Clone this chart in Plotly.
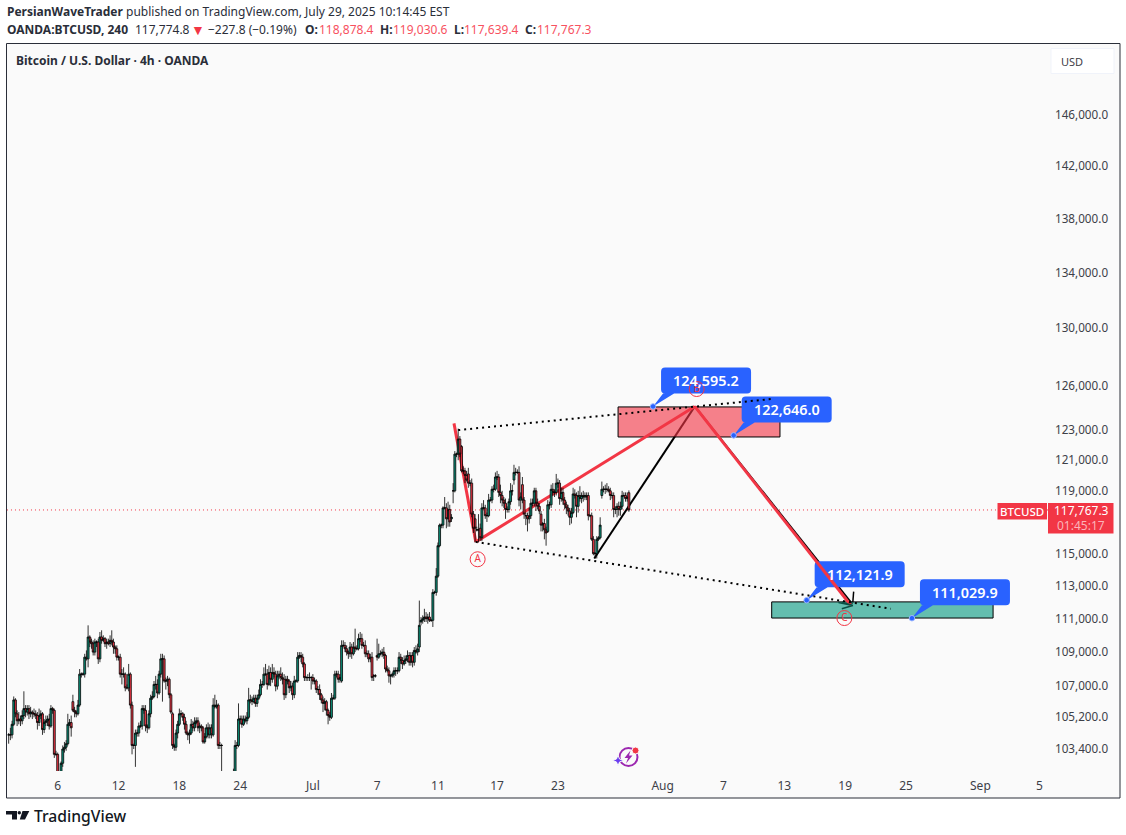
import numpy as np
import plotly.graph_objects as go

W, H = 1126, 835

# ---------- candle data, prices in thousands of USD ----------
opens_k = [
104.2,104.2,104.2,104.8,106.2,105.4,105.0,105.1,105.0,105.3,
105.7,105.5,105.7,105.4,105.5,105.4,105.4,105.3,104.9,105.3,
105.4,104.5,104.9,105.0,105.1,104.7,105.7,105.6,103.1,103.1,
101.9,101.8,102.6,103.4,103.5,103.7,104.8,104.9,106.1,105.6,
105.5,105.4,105.9,107.7,107.7,107.7,108.7,108.6,109.9,109.6,
109.5,109.0,109.6,109.6,108.6,109.9,109.7,109.8,109.5,109.6,
109.5,109.7,109.6,109.3,109.2,108.7,108.7,107.7,107.7,107.7,
106.9,106.9,107.7,105.9,103.6,103.6,104.3,104.3,104.7,104.7,
105.7,105.6,104.7,104.6,105.4,106.3,106.4,107.1,107.1,106.6,
107.7,108.6,108.6,107.3,107.3,107.4,106.5,105.4,103.6,103.5,
104.3,104.8,105.4,105.4,105.2,104.8,104.3,104.2,104.3,104.8,
104.6,104.9,105.0,104.6,104.7,104.6,103.8,104.1,104.6,104.2,
104.6,104.2,105.9,105.8,105.9,103.6,103.6,101.8,101.5,101.2,
100.6,99.6,100.4,101.1,102.1,103.6,103.6,105.1,105.1,104.8,
105.1,105.0,105.2,106.2,106.2,106.1,106.3,106.0,106.3,106.5,
107.1,107.1,107.7,107.7,107.1,107.8,107.4,107.8,107.7,107.0,
107.6,107.7,107.5,107.4,106.5,107.4,107.3,106.9,107.0,106.5,
107.3,107.3,108.7,108.8,108.7,108.3,107.5,107.5,107.5,107.5,
107.5,107.3,107.3,106.8,106.8,106.5,106.2,106.0,106.1,105.6,
105.3,105.2,106.3,106.3,107.7,107.7,107.4,107.3,109.4,109.4,
109.2,109.0,108.9,109.3,108.9,109.3,109.2,109.2,109.8,109.8,
109.4,109.4,108.9,108.9,108.6,108.7,107.6,107.6,108.8,108.7,
108.9,108.9,109.0,108.8,108.0,107.9,107.6,107.6,107.7,107.9,
107.9,107.9,108.7,108.5,108.3,108.5,108.6,108.8,108.4,108.8,
108.4,109.1,109.0,109.3,110.8,110.9,111.0,111.1,111.0,111.1,
110.9,110.9,112.6,112.6,113.6,115.5,116.8,116.8,117.9,117.9,
117.2,117.8,117.2,119.0,119.0,121.4,121.4,122.4,121.9,120.3,
120.3,120.0,120.1,119.5,119.5,117.5,117.2,116.5,116.5,116.6,
116.0,117.9,117.9,117.4,117.4,118.4,118.4,119.1,119.1,119.9,
119.9,118.9,118.7,118.4,118.2,117.8,117.8,118.3,119.0,119.7,
120.2,120.2,120.2,118.4,119.4,118.4,117.4,117.4,117.2,117.4,
118.2,118.2,119.0,118.2,118.0,117.5,116.8,116.9,116.5,116.4,
118.1,118.1,119.1,118.9,118.9,119.5,119.5,118.5,118.9,118.4,
118.1,117.9,117.7,117.3,117.6,118.8,118.7,118.0,118.7,118.5,
118.7,118.6,118.7,118.7,117.4,117.4,115.9,115.0,115.0,115.9,
116.0,118.7,119.1,119.1,119.1,119.1,119.0,118.7,118.7,117.8,
117.8,118.0,117.8,118.0,118.7,118.7,118.5,118.878]

closes_k = [
104.2,104.2,104.8,106.2,105.4,105.0,105.1,105.0,105.3,105.7,
105.5,105.7,105.4,105.5,105.4,105.4,105.3,104.9,105.3,105.4,
104.5,104.9,105.0,105.1,104.7,105.7,105.6,103.1,103.1,101.9,
101.8,102.6,103.4,103.5,103.7,104.8,104.9,104.6,105.6,105.5,
105.4,105.9,107.7,107.7,107.7,108.7,108.6,109.9,109.6,109.5,
109.0,109.6,109.6,108.6,109.9,109.7,109.8,109.5,109.6,109.5,
109.7,109.6,109.3,109.2,108.7,108.7,107.7,107.7,107.7,106.9,
106.9,107.7,105.9,103.6,103.6,104.3,104.3,104.7,104.7,105.7,
105.6,104.7,104.6,105.4,106.3,106.4,107.1,107.1,106.6,107.7,
108.6,108.6,107.3,107.3,107.4,106.5,105.5,103.6,103.5,104.3,
104.8,105.4,105.4,105.2,104.8,104.3,104.2,104.3,104.8,104.6,
104.9,105.0,104.6,104.7,104.6,103.8,104.1,104.6,104.2,104.6,
104.2,105.9,105.8,105.9,103.6,103.6,103.6,101.5,101.2,100.6,
99.6,100.4,101.1,101.5,103.6,103.6,105.1,105.1,104.8,105.1,
105.0,105.2,106.2,106.2,106.1,106.3,106.0,106.3,106.5,107.1,
107.1,107.7,107.7,107.1,107.8,107.4,107.8,107.7,107.0,107.6,
107.7,107.5,107.4,106.5,107.4,107.3,106.9,107.0,106.5,107.3,
107.3,108.7,108.8,108.7,108.3,107.5,107.5,107.5,107.5,107.5,
107.3,107.3,106.8,106.8,106.5,106.2,106.0,106.1,105.6,105.3,
105.2,106.3,106.3,107.7,107.7,107.4,107.5,109.4,109.4,109.2,
109.0,108.9,109.3,108.9,109.3,109.2,109.2,109.8,109.8,109.4,
109.4,108.9,108.9,108.6,108.7,107.5,107.6,107.6,108.7,108.9,
108.9,109.0,108.8,108.0,107.9,107.6,107.6,107.7,107.9,107.9,
107.9,108.7,108.5,108.3,108.5,108.6,108.8,108.4,108.8,108.4,
109.1,109.0,109.2,110.6,110.9,111.0,111.1,111.0,111.1,110.9,
110.9,112.6,112.6,113.6,115.5,116.8,116.8,117.9,117.9,117.2,
117.8,117.0,117.3,119.0,121.4,121.4,122.4,121.4,120.3,120.3,
120.0,119.7,119.5,119.5,117.5,116.6,116.6,116.5,116.5,116.0,
117.9,117.9,117.4,117.4,118.4,118.4,119.1,119.1,119.9,119.9,
118.9,118.7,118.4,118.2,117.8,117.8,118.3,119.0,119.0,120.2,
120.2,120.2,118.4,118.6,118.4,117.5,117.4,117.2,117.4,118.2,
118.2,119.0,118.2,118.0,117.7,116.8,116.9,116.5,116.3,118.1,
118.1,119.1,118.9,118.9,119.5,119.5,118.5,118.9,118.4,118.1,
117.9,117.7,117.3,117.6,118.8,118.7,118.0,118.7,118.5,118.7,
118.6,118.7,118.6,117.4,117.4,115.9,115.0,115.0,115.9,116.0,
116.8,119.1,119.1,119.1,119.1,119.0,118.7,118.7,117.8,117.8,
118.0,117.8,118.0,118.7,118.7,118.5,118.6,117.767]

upper_wick_k = [
.1,.4,.2,.2,.1,.2,.4,.2,.3,1.0,
.2,.2,.2,.3,.1,.3,.2,.2,.4,.2,
.1,.2,.3,.2,.3,.2,.1,.1,.2,.1,
.1,.1,.2,.3,.2,.6,.2,.4,.4,.2,
.1,.3,.3,.1,.1,.2,.4,.7,.1,.2,
.2,.2,.1,.2,.3,.4,.2,.1,.2,.2,
.3,.6,.2,.1,.2,.1,.2,.3,.4,.1,
.2,.6,.1,.2,.1,.2,.2,.2,.3,.2,
.2,.3,.1,.2,.2,.3,.2,.5,.3,.2,
.3,.3,.2,.2,.2,.1,.1,.1,.1,.2,
.2,.3,.2,.1,.2,.2,.1,.2,.3,.2,
.3,.2,.2,.2,.1,.1,.2,.2,.3,.2,
.2,.4,.6,.3,.1,.2,.1,.1,.2,.1,
.1,.1,.2,.8,.3,.2,.9,.2,.2,.2,
.2,.3,.7,.3,.2,.2,.2,.2,.3,.3,
.2,.4,.6,.3,.4,.3,.5,.3,.2,.3,
.2,.4,.3,.3,.2,.2,.1,.3,.2,.3,
.1,.3,.2,.2,.2,.1,.1,.2,.3,.1,
.2,.2,.1,.2,.3,.1,.2,.2,.1,.1,
.2,.3,.2,.2,.2,.2,.2,.3,.3,.2,
.2,.1,.3,.2,.3,1.1,.2,.3,.4,.3,
.2,.3,.2,.2,.2,.3,.1,.1,1.0,.6,
.2,.2,.3,.1,.2,.2,.1,.1,.2,.2,
.2,.3,.2,.2,.3,.2,.3,.2,.2,.2,
.2,.3,.3,1.5,.2,.2,.5,.3,.2,.3,
.1,.2,.1,.5,.2,.1,.1,.1,.7,.3,
.5,.3,.2,.5,.2,.1,.7,.2,.1,.3,
.2,.3,.4,.2,.3,.2,.3,.2,1.0,.3,
.3,.5,.2,.2,.4,.2,.2,.3,.3,.4,
.2,.5,.3,.2,.3,.2,.2,.5,.4,.5,
.3,.2,.4,.3,.5,.2,.2,.2,.5,.3,
.3,.2,.2,.3,.2,.2,.1,.3,.2,.3,
.2,.3,.4,.2,.6,.3,.2,.3,.3,.2,
.2,.2,.2,.3,.4,.3,.2,.3,.6,.2,
.3,.2,.2,.2,.1,.2,.2,.1,.2,.1,
.5,.5,.2,.3,.4,.2,.2,.2,.2,.2,
.2,.3,.3,.3,.2,.2,.3,.15]

lower_wick_k = [
.5,.3,.2,.1,.2,.3,.2,.3,.2,.2,
.3,.2,.3,.2,.3,.2,.2,.4,.2,.2,
.3,.2,.2,.3,.2,.1,.2,.2,.1,.3,
.2,.2,.2,.2,.2,.1,.1,.5,.1,.3,
.2,.1,.1,.2,.1,.2,.1,.5,.3,.3,
.2,.2,.3,.3,.2,.2,.1,.2,.3,.1,
.2,.2,.4,.3,.2,.2,.2,.6,.2,.2,
.1,.2,.2,.5,.2,1.2,.2,.2,.1,.2,
.2,.3,.3,.1,.2,.1,.1,.3,.3,.1,
.2,2.5,.1,.5,.3,.2,.1,.2,.2,.2,
.3,.1,.1,.2,.3,.1,.3,.5,.1,.2,
.2,.1,.2,.3,.2,.1,.1,.1,.2,.2,
.2,.1,.1,.1,.2,.2,1.6,.2,.3,.2,
.4,.2,.2,.3,.2,.2,.1,.3,.2,.1,
.1,.2,.1,.2,.2,.1,.2,.2,.1,.1,
.2,.1,.1,.3,.1,.4,.2,.2,.3,.2,
.2,.2,.3,.3,.2,.2,.3,.2,.3,.2,
.1,.1,.1,.3,.2,.2,.2,.2,.2,.7,
.2,.2,.2,.3,.3,.2,.5,.4,.3,.5,
.2,.1,.1,.1,.2,.2,.2,.1,.1,.2,
.2,.3,.2,.3,.1,.2,.1,.1,.2,.2,
.1,.2,.2,.2,.2,.2,.3,.1,.2,.1,
.1,.2,.2,.2,.1,.4,.5,.1,.2,.3,
.2,.1,.2,.3,.1,.2,.2,.2,.2,.3,
.2,.1,.2,.3,.2,.2,.2,.2,.3,.1,
.1,.4,.1,.2,.1,.1,.2,.2,.1,.6,
.5,.3,.2,.8,.1,.2,.4,.2,.1,.2,
.5,.1,.3,.2,.2,.3,.9,.1,.8,.2,
.2,.1,.2,.4,.1,.1,.2,.2,.1,.2,
.3,.5,.4,.3,.6,.2,.2,.2,.3,.3,
.2,.1,.4,.6,.2,.3,.6,.8,.3,.2,
.2,.2,.5,.2,.2,.4,.4,.6,.8,.1,
.3,.2,.2,.3,.2,.3,.4,.2,.3,.3,
.4,.3,.5,.4,.1,.2,.7,.4,.2,.3,
.3,.2,.2,.3,.1,.1,.1,.3,.3,.1,
.1,.2,.2,.3,.2,.1,.3,.2,.5,.3,
.5,.4,.4,.2,.1,.2,.2,.12]

assert len(opens_k) == len(closes_k) == len(upper_wick_k) == len(lower_wick_k), (
    len(opens_k), len(closes_k), len(upper_wick_k), len(lower_wick_k))

# ---------- axis data ----------
y_tick_values = [146000, 142000, 138000, 134000, 130000, 126000, 123000, 121000,
                 119000, 115000, 113000, 111000, 109000, 107000, 105200, 103400]
x_tick_bars = [29, 65, 101, 137, 180, 218, 254, 289, 325, 387, 423, 459, 495, 531, 575, 610]
x_tick_labels = ["6", "12", "18", "24", "Jul", "7", "11", "17", "23", "Aug", "7", "13", "19", "25", "Sep", "5"]

# ---------- drawing data (bar index / price) ----------
wave_red_bars = [263.5, 276.4, 406, 498.2]
wave_red_prices = [123450, 115740, 124595.2, 111830]
wave_black_bars = [346.5, 406, 499.2]
wave_black_prices = [114700, 124595.2, 111890]
tick_black_bars = [499.5, 500]
tick_black_prices = [112000, 112650]
arrow_green_bars = [491, 499.5, 493, 499.5, 493]
arrow_green_prices = [111980, 111800, 112000, 111800, 111600]
dot_top_bars = [266, 451.5]
dot_top_prices = [123000, 125100]
dot_bottom_bars = [276.4, 522]
dot_bottom_prices = [115740, 111600]
zone_red = dict(bar0=360.6, bar1=456.4, top=124560, bottom=122540)
zone_green = dict(bar0=451.5, bar1=582.5, top=112020, bottom=111040)
callout_values = [124595.2, 122646.0, 112121.9, 111029.9]
callout_bars = [381.3, 429, 472.2, 534.5]
wave_label_text = ["A", "B", "C"]
wave_label_bars = [277.5, 407.1, 494.5]
wave_label_prices = [114650, 125780, 111040]
last_price = 117767.3

# ---------- palette ----------
RED = "#f23645"
GREEN = "#0b8f78"
BLUE = "#2962ff"
TXT = "#3d4048"
FONT = "Noto Sans"


def px(x):
    return x / W


def py(y):
    return 1 - y / H


def paper_rect(x0, y0, x1, y1, **kw):
    return dict(type="rect", xref="paper", yref="paper", x0=px(x0), x1=px(x1), y0=py(y0), y1=py(y1), **kw)


def paper_text(x, y, text, size=12, color=TXT, anchor="left", weight=None):
    f = dict(family=FONT, size=size, color=color)
    if weight:
        f["weight"] = weight
    return dict(xref="paper", yref="paper", x=px(x), y=py(y), text=text, showarrow=False,
                xanchor=anchor, yanchor="middle", font=f, borderpad=0, align="left")


def paper_path(points):
    return "M" + " L".join(f"{px(a):.5f},{py(b):.5f}" for a, b in points) + " Z"


def callout_path(l=8, r=98, b=13, t=39, p0=10, p1=21, c=4):
    return (f"M0,0 L{p0},{b} L{l + c},{b} Q{l},{b} {l},{b + c} L{l},{t - c} Q{l},{t} {l + c},{t} "
            f"L{r - c},{t} Q{r},{t} {r},{t - c} L{r},{b + c} Q{r},{b} {r - c},{b} L{p1},{b} Z")


opens = np.array(opens_k) * 1000
closes = np.array(closes_k) * 1000
highs = np.maximum(opens, closes) + np.array(upper_wick_k) * 1000
lows = np.minimum(opens, closes) - np.array(lower_wick_k) * 1000
bars = np.arange(len(opens))

fig = go.Figure()
# Every other bar goes on its own overlaid x axis so each body can be wider than one bar step.
for offset, axis in ((0, "x"), (1, "x2")):
    fig.add_trace(go.Candlestick(
        x=bars[offset::2], open=opens[offset::2], high=highs[offset::2], low=lows[offset::2],
        close=closes[offset::2], whiskerwidth=0, xaxis=axis, yaxis="y",
        increasing=dict(line=dict(color="#000000", width=0.8), fillcolor=GREEN),
        decreasing=dict(line=dict(color="#000000", width=0.8), fillcolor=RED),
        hoverinfo="skip", showlegend=False))

LINE_AXES = dict(xaxis="x3", yaxis="y")
# dotted trend lines
for bx, by in ((dot_top_bars, dot_top_prices), (dot_bottom_bars, dot_bottom_prices)):
    fig.add_trace(go.Scatter(x=bx, y=by, mode="lines", line=dict(color="#000000", width=2, dash="2px 4px"),
                             hoverinfo="skip", showlegend=False, **LINE_AXES))
# small black tick and arrow at the end of the projection
fig.add_trace(go.Scatter(x=tick_black_bars, y=tick_black_prices, mode="lines",
                         line=dict(color="#000000", width=1.5), hoverinfo="skip", showlegend=False, **LINE_AXES))
fig.add_trace(go.Scatter(x=arrow_green_bars, y=arrow_green_prices, mode="lines",
                         line=dict(color="#0a4f44", width=1.5), hoverinfo="skip", showlegend=False, **LINE_AXES))
# anchors of the price callouts
fig.add_trace(go.Scatter(x=callout_bars, y=callout_values, mode="markers",
                         marker=dict(color=BLUE, size=5.5, line=dict(color="#9db8ff", width=1)),
                         hoverinfo="skip", showlegend=False, **LINE_AXES))
# wave labels
fig.add_trace(go.Scatter(x=wave_label_bars, y=wave_label_prices, mode="markers+text", text=wave_label_text,
                         textposition="middle center",
                         textfont=dict(family=FONT, size=10, color=RED),
                         marker=dict(symbol="circle-open", size=15, color=RED, line=dict(color=RED, width=1)),
                         hoverinfo="skip", showlegend=False, **LINE_AXES))

shapes = [
    paper_rect(6.5, 43.5, 1120, 798, fillcolor="#fafafa", line=dict(color="#2a2e39", width=1), layer="below"),
    dict(type="line", xref="x", yref="y", x0=-1, x1=615, y0=last_price, y1=last_price, layer="below",
         line=dict(color=RED, width=1, dash="1px 3px")),
]
# black zigzag sits beneath the zones and the callouts
for i in range(len(wave_black_bars) - 1):
    shapes.append(dict(type="line", xref="x", yref="y", layer="below",
                       x0=wave_black_bars[i], x1=wave_black_bars[i + 1],
                       y0=wave_black_prices[i], y1=wave_black_prices[i + 1],
                       line=dict(color="#000000", width=2)))
shapes.append(dict(type="rect", xref="x", yref="y", layer="below", x0=zone_red["bar0"], x1=zone_red["bar1"],
                   y0=zone_red["bottom"], y1=zone_red["top"], fillcolor="rgba(242,54,69,0.62)",
                   line=dict(color="#000000", width=1)))
shapes.append(dict(type="rect", xref="x", yref="y", layer="below", x0=zone_green["bar0"], x1=zone_green["bar1"],
                   y0=zone_green["bottom"], y1=zone_green["top"], fillcolor="rgba(8,153,129,0.62)",
                   line=dict(color="#000000", width=1)))
for bar, val in zip(callout_bars, callout_values):
    shapes.append(dict(type="path", layer="below", xref="x", yref="y", xsizemode="pixel", ysizemode="pixel",
                       xanchor=bar, yanchor=val, path=callout_path(), fillcolor=BLUE, line=dict(width=0)))
# red wave lies over the zones and callouts but under the candles
for i in range(len(wave_red_bars) - 1):
    shapes.append(dict(type="line", xref="x", yref="y", layer="below",
                       x0=wave_red_bars[i], x1=wave_red_bars[i + 1],
                       y0=wave_red_prices[i], y1=wave_red_prices[i + 1],
                       line=dict(color=RED, width=3)))

# price tags
shapes.append(paper_rect(997.5, 503, 1047, 519.5, fillcolor=RED, line=dict(width=0), layer="above"))
shapes.append(paper_rect(1048, 503, 1113.5, 533.5, fillcolor=RED, line=dict(width=0), layer="above"))
# USD button
shapes.append(dict(type="path", xref="paper", yref="paper", layer="below", fillcolor="#ffffff",
                   line=dict(color="#f0f3fa", width=1),
                   path=paper_path([(1051, 48.5), (1114, 48.5), (1114, 73.5), (1051, 73.5)])))
# TradingView logo
shapes.append(dict(type="path", xref="paper", yref="paper", layer="above", fillcolor="#131722", line=dict(width=0),
                   path=paper_path([(6, 811), (17, 811), (17, 819.5), (12, 819.5), (12, 814.5), (6, 814.5)])))
shapes.append(dict(type="circle", xref="paper", yref="paper", layer="above", fillcolor="#131722", line=dict(width=0),
                   x0=px(17.6), x1=px(21), y0=py(811), y1=py(814.4)))
shapes.append(dict(type="path", xref="paper", yref="paper", layer="above", fillcolor="#131722", line=dict(width=0),
                   path=paper_path([(22.5, 811), (29.3, 811), (25, 819.5), (19.8, 819.5)])))
# purple icon
shapes.append(dict(type="circle", xref="paper", yref="paper", layer="above", fillcolor="rgba(0,0,0,0)",
                   line=dict(color="#9c27b0", width=2), x0=px(619.5), x1=px(637.5), y0=py(748), y1=py(766)))
shapes.append(dict(type="path", xref="paper", yref="paper", layer="above", fillcolor="#9c27b0", line=dict(width=0),
                   path=paper_path([(630.5, 750.5), (624.5, 758), (628, 758), (626, 763.5), (632.5, 755.5), (629, 755.5)])))
shapes.append(dict(type="circle", xref="paper", yref="paper", layer="above", fillcolor=RED,
                   line=dict(color="#fafafa", width=1), x0=px(632), x1=px(639), y0=py(747), y1=py(754)))
shapes.append(dict(type="path", xref="paper", yref="paper", layer="above", fillcolor="#6a3df0", line=dict(color="#fafafa", width=1),
                   path=paper_path([(618, 755), (619.5, 759), (623.5, 760.5), (619.5, 762), (618, 766),
                                    (616.5, 762), (612.5, 760.5), (616.5, 759)])))

INK = "#2a2e39"
PINK = "#f7525f"
annotations = [
    paper_text(6, 11.5, '<b>PersianWaveTrader</b> published on TradingView.com, July 29, 2025 10:14:45 EST', 12, INK),
    paper_text(6, 29.5, "<b>OANDA:BTCUSD, 240</b>", 12, INK),
    paper_text(134, 29.5, "117,774.8", 12, INK),
    paper_text(190, 29.5, "▼", 14, RED),
    paper_text(207, 29.5, "−227.8 (−0.19%)", 12, INK),
    paper_text(303.5, 29.5, "<b>O:</b>", 12, INK),
    paper_text(317.8, 29.5, "118,878.4", 12, PINK),
    paper_text(378.5, 29.5, "<b>H:</b>", 12, INK),
    paper_text(392, 29.5, "119,030.6", 12, PINK),
    paper_text(452.5, 29.5, "<b>L:</b>", 12, INK),
    paper_text(463, 29.5, "117,639.4", 12, PINK),
    paper_text(524, 29.5, "<b>C:</b>", 12, INK),
    paper_text(535.6, 29.5, "117,767.3", 12, PINK),
    paper_text(15, 60.5, "<b>Bitcoin / U.S. Dollar · 4h · OANDA</b>", 12, INK),
    paper_text(1060, 61, "USD", 11, TXT),
    paper_text(1022, 511.5, "BTCUSD", 11.5, "#ffffff", "center", weight=500),
    paper_text(1081, 511, "117,767.3", 12, "#ffffff", "center"),
    paper_text(1081, 525, "01:45:17", 12, "#fbb4ba", "center"),
    paper_text(33, 816, "TradingView", 15.7, "#131722", weight=500),
]
for bar, val in zip(callout_bars, callout_values):
    annotations.append(dict(x=bar, y=float(np.log10(val)), xref="x", yref="y", text=f"{val:,.1f}", showarrow=False,
                            xshift=53, yshift=26, xanchor="center", yanchor="middle",
                            font=dict(family=FONT, size=14.4, color="#ffffff", weight=600)))

X_RANGE = [-0.99, 615]
X_DOMAIN = [px(7), px(1048)]
hidden_x = dict(domain=X_DOMAIN, range=X_RANGE, overlaying="x", visible=False, anchor="y",
                rangeslider=dict(visible=False))

fig.update_layout(
    width=W, height=H, margin=dict(l=0, r=0, t=0, b=0), autosize=False,
    paper_bgcolor="#ffffff", plot_bgcolor="rgba(0,0,0,0)", showlegend=False,
    boxgap=0.2, shapes=shapes, annotations=annotations, hovermode=False,
    font=dict(family=FONT, size=12, color=TXT),
    xaxis=dict(domain=X_DOMAIN, range=X_RANGE, rangeslider=dict(visible=False),
               tickmode="array", tickvals=x_tick_bars, ticktext=x_tick_labels,
               showgrid=False, zeroline=False, showline=False, ticks="", ticklabelstandoff=6,
               tickfont=dict(family=FONT, size=12, color=TXT), anchor="y", tickangle=0),
    xaxis2=hidden_x,
    xaxis3=hidden_x,
    yaxis=dict(domain=[py(771), py(45)], type="log", side="right",
               range=[float(np.log10(102170)), float(np.log10(151680))],
               tickmode="array", tickvals=y_tick_values, ticktext=[f"{v:,.1f}" for v in y_tick_values],
               showgrid=False, zeroline=False, showline=False, ticks="", ticklabelstandoff=6,
               tickfont=dict(family=FONT, size=11.7, color=TXT), anchor="x"),
)

fig.write_html("out.html", post_script="document.body.style.margin='0';document.documentElement.style.overflow='hidden';",
               config=dict(displayModeBar=False))
